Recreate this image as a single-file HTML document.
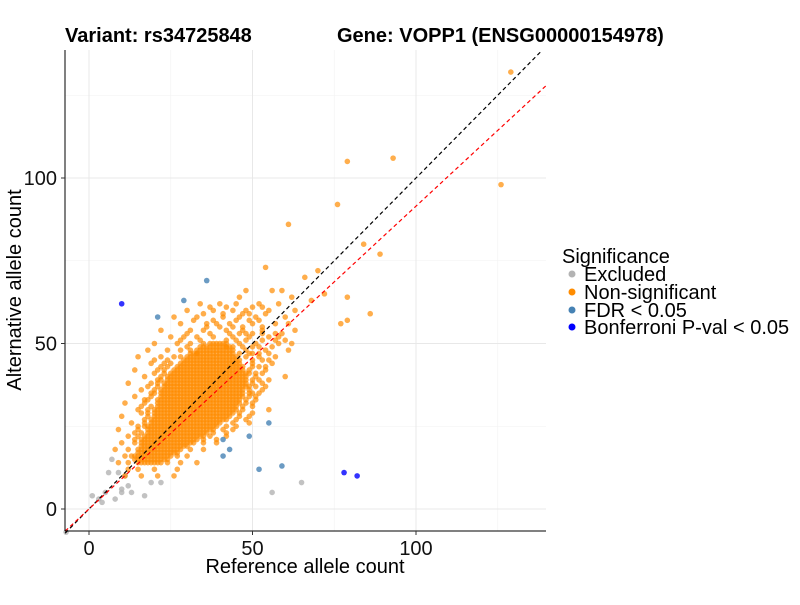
<!DOCTYPE html>
<html><head><meta charset="utf-8"><style>
body{margin:0;background:#fff;font-family:"Liberation Sans",sans-serif}
</style></head><body>
<svg id="chart" width="800" height="600" xmlns="http://www.w3.org/2000/svg">
<text x="65" y="42" font-size="20" font-weight="bold">Variant: rs34725848</text>
<text x="337" y="42" font-size="20" font-weight="bold">Gene: VOPP1 (ENSG00000154978)</text>
<g id="grid"></g>
<g id="marks"></g>
<g id="lines"></g>
<line x1="65" y1="50" x2="65" y2="531" stroke="#000" stroke-width="1"/>
<line x1="65" y1="531" x2="546" y2="531" stroke="#000" stroke-width="1"/>
<g id="ticks"></g>
<text x="305" y="573" font-size="20" text-anchor="middle">Reference allele count</text>
<text transform="translate(21,290) rotate(-90)" font-size="20" text-anchor="middle">Alternative allele count</text>
<g>
<text x="562" y="263" font-size="20">Significance</text>
<circle cx="572" cy="274" r="3.5" fill="#b3b3b3"/>
<text x="584" y="281" font-size="20">Excluded</text>
<circle cx="572" cy="292" r="3.5" fill="#ff8c00"/>
<text x="584" y="299" font-size="20">Non-significant</text>
<circle cx="572" cy="310" r="3.5" fill="#4682b4"/>
<text x="584" y="317" font-size="20">FDR &lt; 0.05</text>
<circle cx="572" cy="327" r="3.5" fill="#0000ff"/>
<text x="584" y="334" font-size="20">Bonferroni P-val &lt; 0.05</text>
</g>
</svg>
<script>
const xTicks=[0,50,100];
const yTicks=[0,50,100];
const minorTicks=[25,75,125];
// dense core: for each alt count, ref count range filled
const coreY=[14,15,16,17,18,19,20,21,22,23,24,25,26,27,28,29,30,31,32,33,34,35,36,37,38,39,40,41,42,43,44,45,46,47,48,49,50];
const coreXmin=[15,14,14,15,15,16,16,17,17,18,18,18,19,19,20,20,20,21,21,21,22,22,22,23,23,24,25,25,26,27,28,29,30,32,33,35,37];
const coreXmax=[22,24,25,27,28,30,32,33,35,36,38,39,40,42,43,44,45,45,46,46,47,47,47,48,48,48,48,48,47,47,46,46,45,44,44,43,42];
const scatterY=[66,64,62,60,58,56,54,52,50,48,46,44,42,40,38,36,34,32,30,28,26,24,22,20,18,16,14,12,10,45,43,41,39,37,35,33,31,29,27,25,23,21,53,51,49,47,61,59,57,55];
const scatterX=[[48,56,59],[46,62],[34,40,45,52,58],[30,38,44,48,55,63],[26,33,41,46,51,60],[28,36,39,43,50,57,61],[22,31,35,42,47,53,63],[25,29,33,38,44,49,55,58],[20,27,31,35,46,51,58,62],[18,24,28,31,48,54,61],[15,22,26,28,48,52,57],[19,23,25,50,56],[14,21,23,49,54],[17,22,24,51,60],[12,19,21,50,53],[16,20,49,53],[14,19,49,51],[11,17,48,50],[15,18,47,55],[10,18,46,49],[13,17,44,49],[9,15,41,44],[12,15,37,42],[10,14,35,39],[8,12,31,35],[11,13,27,30],[9,12,24,28,33],[12,15,20,27],[11,16,21,26],[24,20,50,55,53],[22,24,50,52,54],[20,23,49,53,51],[21,22,50,52,55],[18,21,49,54,51],[20,19,49,50,52],[18,17,48,51],[19,16,47,50],[16,18,46,50],[17,48,45],[17,15,42,45],[14,16,38,42],[16,14,35,39],[30,37,48,57,59,53,43,46,50],[28,34,45,53,57,60,42,48],[30,34,42,50,56,44,47,52],[33,31,52,55,49,46,50],[37,42,50,53],[35,41,47,49,54],[32,38,45,49,52],[36,40,44,47,53]];
const outRef=[129,126,93,79,61,76,84,89,54,70,79,86,79,77,66,72,68];
const outAlt=[132,98,106,105,86,92,80,77,73,72,64,59,57,56,70,65,63];
const fdrRef=[36,29,21,41,49,43,41,52,55,59];
const fdrAlt=[69,63,58,21,22,18,16,12,26,13];
const bonfRef=[10,78,82];
const bonfAlt=[62,11,10];
const exclRef=[1,3,5,6,7,9,11,10,12,17,22,19,13,56,65,10,-7,4,8];
const exclAlt=[4,3,5,11,15,11,10,6,7,4,8,8,5,5,8,5,-7,2,3];
const redSlope=0.915;

const NS='http://www.w3.org/2000/svg';
const X=v=>89+v*3.27, Y=v=>509-v*3.31;
function mk(t,a,p){const e=document.createElementNS(NS,t);for(const k in a)e.setAttribute(k,a[k]);p.appendChild(e);return e;}
const grid=document.getElementById('grid'),marks=document.getElementById('marks'),lines=document.getElementById('lines'),ticks=document.getElementById('ticks');
minorTicks.forEach(v=>{
 let l=mk('line',{x1:X(v),x2:X(v),y1:50,y2:531,stroke:'#f2f2f2','stroke-width':0.6},grid);
 
 
 let m=mk('line',{x1:65,x2:546,y1:Y(v),y2:Y(v),stroke:'#f2f2f2','stroke-width':0.6},grid);
 
 
});
xTicks.forEach(v=>{
 let l=mk('line',{x1:X(v),x2:X(v),y1:50,y2:531,stroke:'#e8e8e8','stroke-width':1},grid);
 
 
 let t=mk('line',{x1:X(v),x2:X(v),y1:531,y2:535,stroke:'#333'},ticks);
 
 
 let tx=mk('text',{x:X(v),y:555,'font-size':20,'text-anchor':'middle',fill:'#111'},ticks);
 tx.textContent=v;
 
 
});
yTicks.forEach(v=>{
 let l=mk('line',{x1:65,x2:546,y1:Y(v),y2:Y(v),stroke:'#e8e8e8','stroke-width':1},grid);
 
 
 let t=mk('line',{x1:61,x2:65,y1:Y(v),y2:Y(v),stroke:'#333'},ticks);
 
 
 let tx=mk('text',{x:57,y:Y(v)+7,'font-size':20,'text-anchor':'end',fill:'#111'},ticks);
 tx.textContent=v;
 
 
});
function dot(x,y,c,name,op){
 const d=mk('circle',{cx:X(x),cy:Y(y),r:2.8,fill:c,'fill-opacity':op},marks);
 
 
}
exclRef.forEach((x,i)=>dot(x,exclAlt[i],'#b3b3b3','excluded-point',0.8));
coreY.forEach((y,i)=>{for(let x=coreXmin[i];x<=coreXmax[i];x++)dot(x,y,'#ff8c00','nonsig-point',0.7);});
scatterY.forEach((y,i)=>scatterX[i].forEach(x=>dot(x,y,'#ff8c00','nonsig-point',0.7)));
outRef.forEach((x,i)=>dot(x,outAlt[i],'#ff8c00','nonsig-point',0.7));
fdrRef.forEach((x,i)=>dot(x,fdrAlt[i],'#4682b4','fdr-point',0.8));
bonfRef.forEach((x,i)=>dot(x,bonfAlt[i],'#0000ff','bonferroni-point',0.8));
let b=mk('line',{x1:X(-7.3),y1:Y(-7.3),x2:X(138.5),y2:Y(138.5),stroke:'#000','stroke-dasharray':'4,3','stroke-width':1.2},lines);


let r=mk('line',{x1:X(-7.3),y1:Y(-7.3*redSlope),x2:X(139.7),y2:Y(139.7*redSlope),stroke:'#ff0000','stroke-dasharray':'4,3','stroke-width':1.2},lines);


</script>
</body></html>
